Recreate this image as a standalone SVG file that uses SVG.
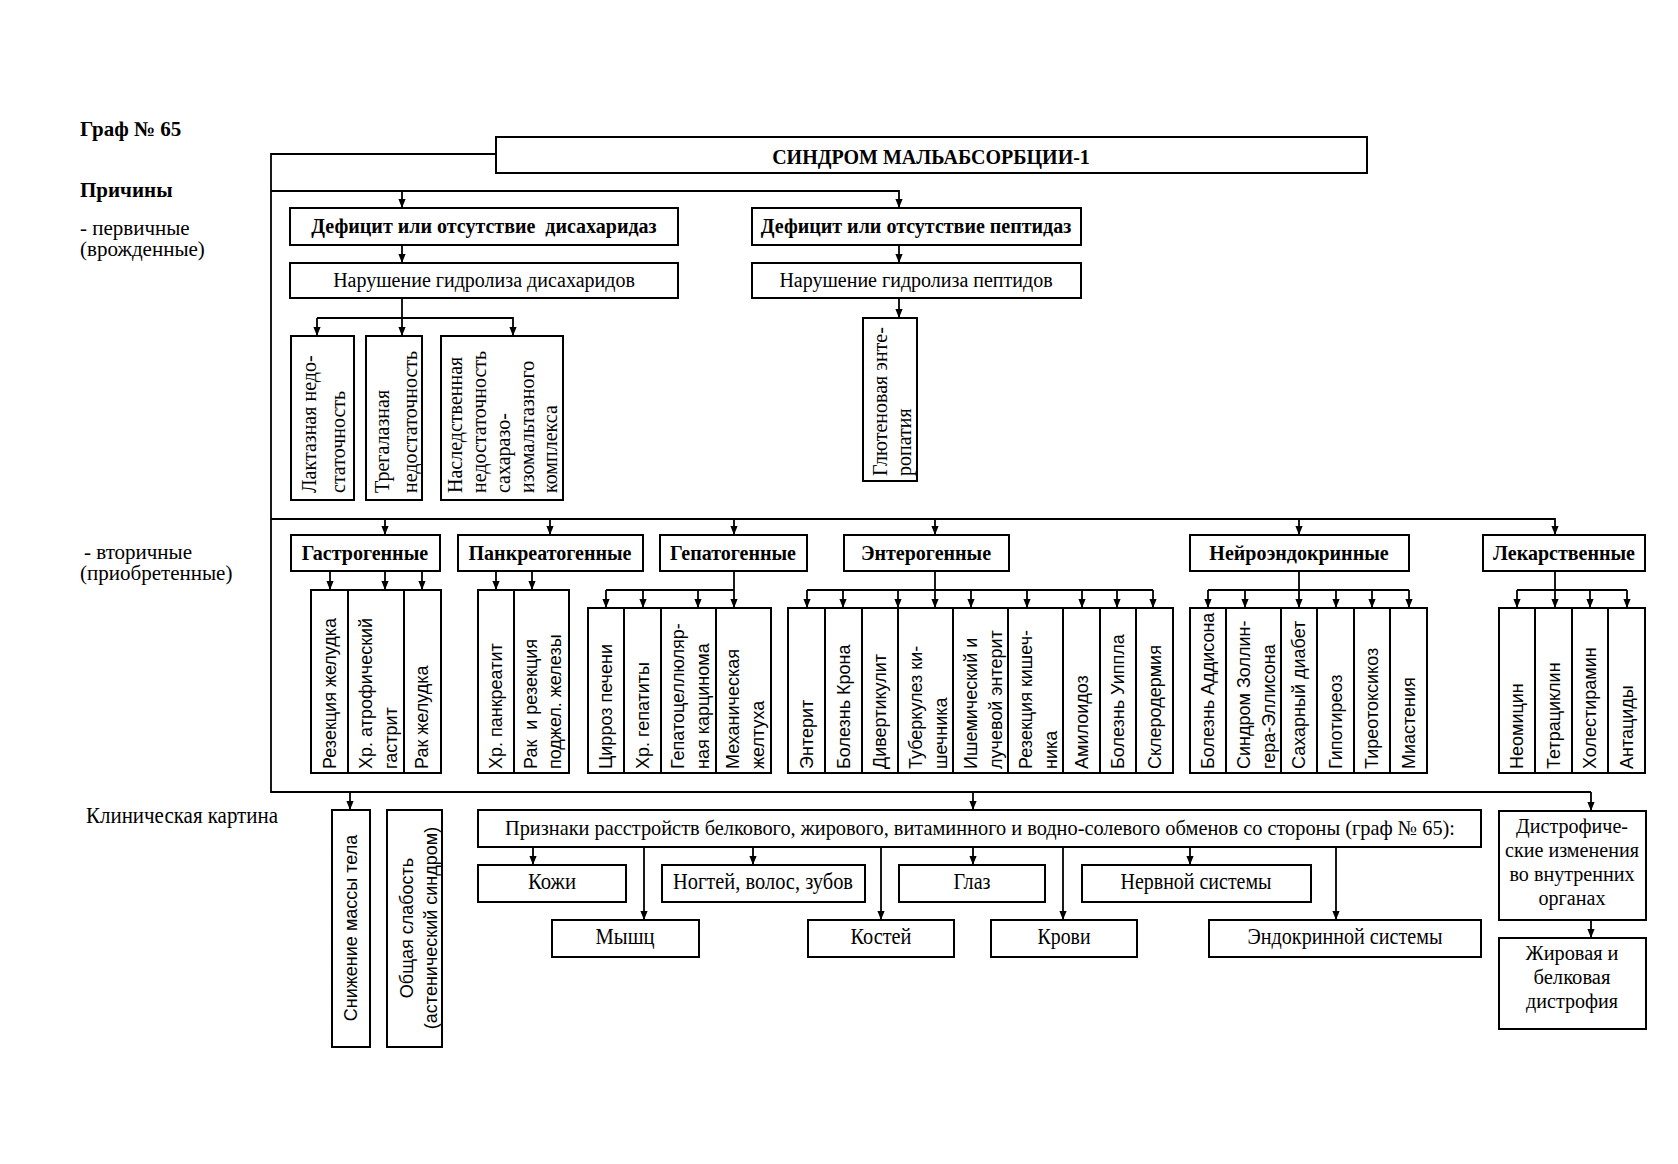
<svg xmlns="http://www.w3.org/2000/svg" width="1678" height="1164" viewBox="0 0 1678 1164">
<style>
.box{fill:#fff;stroke:#000;stroke-width:2}
.ln{fill:none;stroke:#000;stroke-width:1.8}
.a{fill:none;stroke:#000;stroke-width:1.8;marker-end:url(#ah)}
.t{font-family:"Liberation Serif","Times New Roman",serif;font-size:20px;fill:#000}
.l{font-family:"Liberation Serif","Times New Roman",serif;font-size:21px;fill:#000}
.b{font-family:"Liberation Serif","Times New Roman",serif;font-size:20px;font-weight:bold;fill:#000}
.s{font-family:"Liberation Sans",Arial,sans-serif;font-size:18px;fill:#000}
.c{font-family:"Liberation Serif","Times New Roman",serif;font-size:23px;fill:#000}
.p{font-family:"Liberation Serif","Times New Roman",serif;font-size:21px;fill:#000}
.d{font-family:"Liberation Serif","Times New Roman",serif;font-size:20px;fill:#000}
.m{text-anchor:middle}
.w{font-weight:bold}
</style>
<defs>
<marker id="ah" viewBox="0 0 10 10" refX="10" refY="5" markerWidth="9" markerHeight="9" markerUnits="userSpaceOnUse" orient="auto"><path d="M0,1 L10,5 L0,9 z" fill="#000"/></marker>
</defs>
<rect width="1678" height="1164" fill="#fff"/>

<g id="labels">
<text class="l w" x="80" y="136">Граф № 65</text>
<text class="l w" x="80" y="197">Причины</text>
<text class="l" x="80" y="235">- первичные</text>
<text class="l" x="80" y="256">(врожденные)</text>
<text class="l" x="84" y="559">- вторичные</text>
<text class="l" x="80" y="580">(приобретенные)</text>
<text class="c" x="86" y="823" textLength="192" lengthAdjust="spacingAndGlyphs">Клиническая картина</text>
</g>

<g id="connectors">
<path class="ln" d="M496,154 H271 V792 H1591"/>
<path class="a" d="M271,191 H899 V208"/>
<path class="a" d="M402,191 V208"/>
<path class="a" d="M402,245 V263"/>
<path class="a" d="M899,245 V263"/>
<path class="a" d="M402,298 V336"/>
<path class="a" d="M317,318 H513 V336"/>
<path class="a" d="M317,318 V336"/>
<path class="a" d="M899,298 V318"/>
<path class="a" d="M271,519 H1555 V535"/>
<path class="a" d="M385,519 V535"/>
<path class="a" d="M550,519 V535"/>
<path class="a" d="M734,519 V535"/>
<path class="a" d="M935,519 V535"/>
<path class="a" d="M1299,519 V535"/>
<path class="a" d="M330,571 V590"/>
<path class="a" d="M385,571 V590"/>
<path class="a" d="M422,571 V590"/>
<path class="a" d="M496,571 V590"/>
<path class="a" d="M532,571 V590"/>
<path class="a" d="M734,571 V608"/>
<path class="ln" d="M606,590 H734"/>
<path class="a" d="M606,590 V608"/>
<path class="a" d="M643,590 V608"/>
<path class="a" d="M698,590 V608"/>
<path class="a" d="M935,571 V608"/>
<path class="ln" d="M807,590 H1153"/>
<path class="a" d="M807,590 V608"/>
<path class="a" d="M843,590 V608"/>
<path class="a" d="M898,590 V608"/>
<path class="a" d="M971,590 V608"/>
<path class="a" d="M1027,590 V608"/>
<path class="a" d="M1082,590 V608"/>
<path class="a" d="M1117,590 V608"/>
<path class="a" d="M1153,590 V608"/>
<path class="a" d="M1299,571 V608"/>
<path class="ln" d="M1208,590 H1409"/>
<path class="a" d="M1208,590 V608"/>
<path class="a" d="M1245,590 V608"/>
<path class="a" d="M1336,590 V608"/>
<path class="a" d="M1372,590 V608"/>
<path class="a" d="M1409,590 V608"/>
<path class="a" d="M1555,571 V608"/>
<path class="ln" d="M1517,590 H1627"/>
<path class="a" d="M1517,590 V608"/>
<path class="a" d="M1590,590 V608"/>
<path class="a" d="M1627,590 V608"/>
<path class="a" d="M350,792 V810"/>
<path class="a" d="M973,792 V810"/>
<path class="a" d="M1591,792 V811"/>
<path class="a" d="M533,847 V865"/>
<path class="a" d="M644,847 V920"/>
<path class="a" d="M753,847 V865"/>
<path class="a" d="M881,847 V920"/>
<path class="a" d="M973,847 V865"/>
<path class="a" d="M1063,847 V920"/>
<path class="a" d="M1190,847 V865"/>
<path class="a" d="M1336,847 V920"/>
<path class="a" d="M1591,920 V938"/>
</g>

<g id="title"><rect class="box" x="496" y="137" width="871" height="36"/><text class="b m" x="931" y="164">СИНДРОМ МАЛЬАБСОРБЦИИ-1</text></g>

<g id="n-def-dis"><rect class="box" x="290" y="208" width="388" height="37"/><text class="b m" x="484" y="233" style="white-space:pre">Дефицит или отсутствие  дисахаридаз</text></g>
<g id="n-nar-dis"><rect class="box" x="290" y="263" width="388" height="35"/><text class="t m" x="484" y="287">Нарушение гидролиза дисахаридов</text></g>
<g id="n-def-pep"><rect class="box" x="752" y="208" width="329" height="37"/><text class="b m" x="916" y="233">Дефицит или отсутствие пептидаз</text></g>
<g id="n-nar-pep"><rect class="box" x="752" y="263" width="329" height="35"/><text class="t m" x="916" y="287">Нарушение гидролиза пептидов</text></g>

<g id="n-lakt"><rect class="box" x="291" y="336" width="63" height="164"/>
<text class="t" transform="translate(316,493) rotate(-90)">Лактазная недо-</text>
<text class="t" transform="translate(345,493) rotate(-90)">статочность</text></g>
<g id="n-treg"><rect class="box" x="366" y="336" width="56" height="164"/>
<text class="t" transform="translate(389,493) rotate(-90)">Трегалазная</text>
<text class="t" transform="translate(417,493) rotate(-90)">недостаточность</text></g>
<g id="n-nasl"><rect class="box" x="441" y="336" width="122" height="164"/>
<text class="t" transform="translate(462,493) rotate(-90)">Наследственная</text>
<text class="t" transform="translate(486,493) rotate(-90)">недостаточность</text>
<text class="t" transform="translate(510,493) rotate(-90)">сахаразо-</text>
<text class="t" transform="translate(534,493) rotate(-90)">изомальтазного</text>
<text class="t" transform="translate(557,493) rotate(-90)">комплекса</text></g>
<g id="n-glut"><rect class="box" x="863" y="318" width="54" height="163"/>
<text class="t" transform="translate(887,476) rotate(-90)">Глютеновая энте-</text>
<text class="t" transform="translate(911,476) rotate(-90)">ропатия</text></g>

<g id="n-gastro"><rect class="box" x="291" y="535" width="149" height="36"/><text class="b m" x="365" y="560">Гастрогенные</text></g>
<g id="n-pankr"><rect class="box" x="458" y="535" width="185" height="36"/><text class="b m" x="550" y="560">Панкреатогенные</text></g>
<g id="n-gepat"><rect class="box" x="660" y="535" width="147" height="36"/><text class="b m" x="733" y="560">Гепатогенные</text></g>
<g id="n-entero"><rect class="box" x="844" y="535" width="165" height="36"/><text class="b m" x="926" y="560">Энтерогенные</text></g>
<g id="n-neuro"><rect class="box" x="1190" y="535" width="219" height="36"/><text class="b m" x="1299" y="560">Нейроэндокринные</text></g>
<g id="n-drug"><rect class="box" x="1483" y="535" width="162" height="36"/><text class="b m" x="1564" y="560">Лекарственные</text></g>

<g id="n-g1"><rect class="box" x="311" y="590" width="37" height="183"/><text class="s" transform="translate(336,769) rotate(-90)">Резекция желудка</text></g>
<g id="n-g2"><rect class="box" x="348" y="590" width="56" height="183"/><text class="s" transform="translate(372,769) rotate(-90)">Хр. атрофический</text><text class="s" transform="translate(397,769) rotate(-90)">гастрит</text></g>
<g id="n-g3"><rect class="box" x="404" y="590" width="37" height="183"/><text class="s" transform="translate(428,769) rotate(-90)">Рак желудка</text></g>

<g id="n-p1"><rect class="box" x="478" y="590" width="36" height="183"/><text class="s" transform="translate(502,769) rotate(-90)">Хр. панкреатит</text></g>
<g id="n-p2"><rect class="box" x="514" y="590" width="55" height="183"/><text class="s" transform="translate(537,769) rotate(-90)" style="white-space:pre">Рак  и резекция</text><text class="s" transform="translate(561,769) rotate(-90)">поджел. железы</text></g>

<g id="n-h1"><rect class="box" x="588" y="608" width="36" height="165"/><text class="s" transform="translate(612,769) rotate(-90)">Цирроз печени</text></g>
<g id="n-h2"><rect class="box" x="624" y="608" width="37" height="165"/><text class="s" transform="translate(649,769) rotate(-90)">Хр. гепатиты</text></g>
<g id="n-h3"><rect class="box" x="661" y="608" width="55" height="165"/><text class="s" transform="translate(684,769) rotate(-90)">Гепатоцеллюляр-</text><text class="s" transform="translate(709,769) rotate(-90)">ная карцинома</text></g>
<g id="n-h4"><rect class="box" x="716" y="608" width="55" height="165"/><text class="s" transform="translate(739,769) rotate(-90)">Механическая</text><text class="s" transform="translate(764,769) rotate(-90)">желтуха</text></g>

<g id="n-e1"><rect class="box" x="788" y="608" width="37" height="165"/><text class="s" transform="translate(813,769) rotate(-90)">Энтерит</text></g>
<g id="n-e2"><rect class="box" x="825" y="608" width="37" height="165"/><text class="s" transform="translate(850,769) rotate(-90)">Болезнь Крона</text></g>
<g id="n-e3"><rect class="box" x="862" y="608" width="36" height="165"/><text class="s" transform="translate(886,769) rotate(-90)">Дивертикулит</text></g>
<g id="n-e4"><rect class="box" x="898" y="608" width="55" height="165"/><text class="s" transform="translate(922,769) rotate(-90)">Туберкулез ки-</text><text class="s" transform="translate(947,769) rotate(-90)">шечника</text></g>
<g id="n-e5"><rect class="box" x="953" y="608" width="55" height="165"/><text class="s" transform="translate(977,769) rotate(-90)">Ишемический и</text><text class="s" transform="translate(1002,769) rotate(-90)">лучевой энтерит</text></g>
<g id="n-e6"><rect class="box" x="1008" y="608" width="55" height="165"/><text class="s" transform="translate(1032,769) rotate(-90)">Резекция кишеч-</text><text class="s" transform="translate(1057,769) rotate(-90)">ника</text></g>
<g id="n-e7"><rect class="box" x="1063" y="608" width="37" height="165"/><text class="s" transform="translate(1088,769) rotate(-90)">Амилоидоз</text></g>
<g id="n-e8"><rect class="box" x="1100" y="608" width="36" height="165"/><text class="s" transform="translate(1124,769) rotate(-90)">Болезнь Уиппла</text></g>
<g id="n-e9"><rect class="box" x="1136" y="608" width="37" height="165"/><text class="s" transform="translate(1161,769) rotate(-90)">Склеродермия</text></g>

<g id="n-n1"><rect class="box" x="1190" y="608" width="36" height="165"/><text class="s" transform="translate(1214,769) rotate(-90)">Болезнь Аддисона</text></g>
<g id="n-n2"><rect class="box" x="1226" y="608" width="55" height="165"/><text class="s" transform="translate(1250,769) rotate(-90)">Синдром Золлин-</text><text class="s" transform="translate(1275,769) rotate(-90)">гера-Эллисона</text></g>
<g id="n-n3"><rect class="box" x="1281" y="608" width="36" height="165"/><text class="s" transform="translate(1305,769) rotate(-90)">Сахарный диабет</text></g>
<g id="n-n4"><rect class="box" x="1317" y="608" width="37" height="165"/><text class="s" transform="translate(1342,769) rotate(-90)">Гипотиреоз</text></g>
<g id="n-n5"><rect class="box" x="1354" y="608" width="36" height="165"/><text class="s" transform="translate(1378,769) rotate(-90)">Тиреотоксикоз</text></g>
<g id="n-n6"><rect class="box" x="1390" y="608" width="37" height="165"/><text class="s" transform="translate(1415,769) rotate(-90)">Миастения</text></g>

<g id="n-d1"><rect class="box" x="1499" y="608" width="36" height="165"/><text class="s" transform="translate(1523,769) rotate(-90)">Неомицин</text></g>
<g id="n-d2"><rect class="box" x="1535" y="608" width="37" height="165"/><text class="s" transform="translate(1560,769) rotate(-90)">Тетрациклин</text></g>
<g id="n-d3"><rect class="box" x="1572" y="608" width="36" height="165"/><text class="s" transform="translate(1596,769) rotate(-90)">Холестирамин</text></g>
<g id="n-d4"><rect class="box" x="1608" y="608" width="37" height="165"/><text class="s" transform="translate(1633,769) rotate(-90)">Антациды</text></g>

<g id="n-mass"><rect class="box" x="332" y="810" width="38" height="237"/><text class="s m" transform="translate(357,928) rotate(-90)">Снижение массы тела</text></g>
<g id="n-weak"><rect class="box" x="387" y="810" width="55" height="237"/><text class="s m" transform="translate(413,928) rotate(-90)">Общая слабость</text><text class="s m" transform="translate(437,928) rotate(-90)">(астенический синдром)</text></g>

<g id="n-signs"><rect class="box" x="478" y="810" width="1003" height="37"/><text class="p" x="505" y="835" textLength="950" lengthAdjust="spacingAndGlyphs">Признаки расстройств белкового, жирового, витаминного и водно-солевого обменов со стороны (граф № 65):</text></g>
<g id="n-skin"><rect class="box" x="478" y="865" width="148" height="37"/><text class="c m" x="552" y="889" textLength="48" lengthAdjust="spacingAndGlyphs">Кожи</text></g>
<g id="n-nails"><rect class="box" x="662" y="865" width="203" height="37"/><text class="c m" x="763" y="889" textLength="180" lengthAdjust="spacingAndGlyphs">Ногтей, волос, зубов</text></g>
<g id="n-eyes"><rect class="box" x="899" y="865" width="146" height="37"/><text class="c m" x="972" y="889" textLength="37" lengthAdjust="spacingAndGlyphs">Глаз</text></g>
<g id="n-nerv"><rect class="box" x="1082" y="865" width="229" height="37"/><text class="c m" x="1196" y="889" textLength="151" lengthAdjust="spacingAndGlyphs">Нервной системы</text></g>
<g id="n-musc"><rect class="box" x="552" y="920" width="147" height="37"/><text class="c m" x="625" y="944" textLength="59" lengthAdjust="spacingAndGlyphs">Мышц</text></g>
<g id="n-bone"><rect class="box" x="808" y="920" width="146" height="37"/><text class="c m" x="881" y="944" textLength="61" lengthAdjust="spacingAndGlyphs">Костей</text></g>
<g id="n-blood"><rect class="box" x="991" y="920" width="146" height="37"/><text class="c m" x="1064" y="944" textLength="53" lengthAdjust="spacingAndGlyphs">Крови</text></g>
<g id="n-endo"><rect class="box" x="1209" y="920" width="272" height="37"/><text class="c m" x="1345" y="944" textLength="195" lengthAdjust="spacingAndGlyphs">Эндокринной системы</text></g>

<g id="n-dystr"><rect class="box" x="1499" y="811" width="147" height="109"/>
<text class="d m" x="1572" y="833" textLength="112" lengthAdjust="spacingAndGlyphs">Дистрофиче-</text>
<text class="d m" x="1572" y="857" textLength="134" lengthAdjust="spacingAndGlyphs">ские изменения</text>
<text class="d m" x="1572" y="881" textLength="125" lengthAdjust="spacingAndGlyphs">во внутренних</text>
<text class="d m" x="1572" y="905" textLength="67" lengthAdjust="spacingAndGlyphs">органах</text></g>
<g id="n-fat"><rect class="box" x="1499" y="938" width="147" height="91"/>
<text class="d m" x="1572" y="960" textLength="93" lengthAdjust="spacingAndGlyphs">Жировая и</text>
<text class="d m" x="1572" y="984" textLength="77" lengthAdjust="spacingAndGlyphs">белковая</text>
<text class="d m" x="1572" y="1008" textLength="92" lengthAdjust="spacingAndGlyphs">дистрофия</text></g>
</svg>
